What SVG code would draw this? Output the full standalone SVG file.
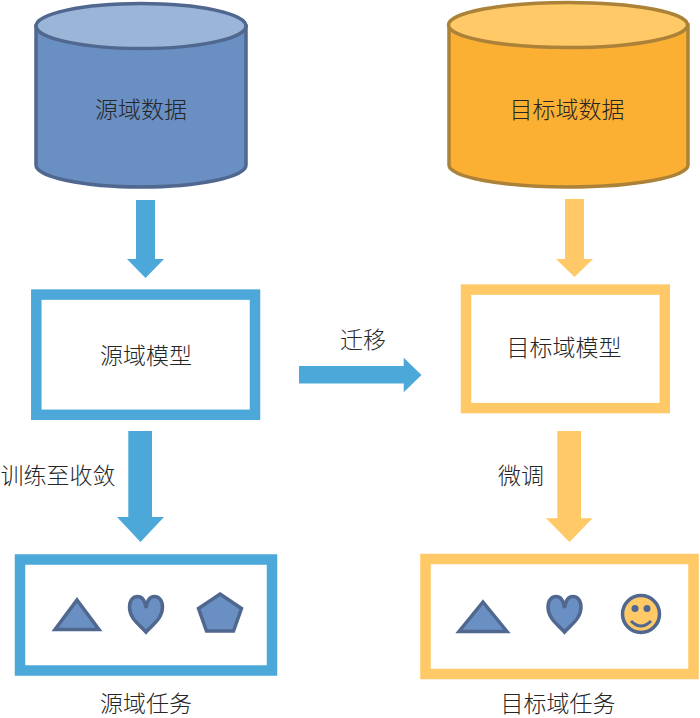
<svg xmlns="http://www.w3.org/2000/svg" width="700" height="718" viewBox="0 0 700 718">
<style>
text{font-family:"Noto Sans CJK SC","Noto Sans CJK JP",sans-serif;font-size:23px;fill:#262626;text-anchor:middle;font-weight:300}
.bb{fill:#fff;stroke:#4ba8d8;stroke-width:10.5px}
.yb{fill:#fff;stroke:#fec966;stroke-width:10.5px}
.ba{fill:#4ba8d8}
.ya{fill:#fec966}
.ic{fill:#6a8fc3;stroke:#50688f;stroke-width:3.5;stroke-linejoin:miter}
</style>
<rect width="700" height="718" fill="#fff"/>
<defs>
<path id="heart" d="M0 19C-6 12-16.500 6-16.500-6C-16.500-13-12.500-16.500-8.500-16.500C-4-16.500-1-12 0-5C1-12 4-16.500 8.500-16.500C12.500-16.500 16.500-13 16.500-6C16.500 6 6 12 0 19Z"/>
</defs>
<g id="connectors">
<path class="ba" d="M136 200H155V259H164L145.500 278L127 259H136Z"/>
<path class="ya" d="M565 199H584V259H593L574.500 277L556 259H565Z"/>
<path class="ba" d="M299 366H403.700V357.700L421.500 375L403.700 392.300V383.500H299Z"/>
<path class="ba" d="M128.300 431H152V517H164L140.500 542L117 517H128.300Z"/>
<path class="ya" d="M557.300 431H581V518.300H592.500L569.500 542L546 518.300H557.300Z"/>
</g>
<g id="source-data">
<path d="M36 26V165C36 177 83 187 141 187C199 187 246 177 246 165V26Z" fill="#6a8fc3" stroke="#50688f" stroke-width="3.500"/>
<ellipse cx="141" cy="26" rx="105" ry="22.500" fill="#9bb5d8" stroke="#50688f" stroke-width="3.500"/>
<text x="141" y="118">源域数据</text>
</g>
<g id="target-data">
<path d="M449 25V165C449 177 502 187 568 187C634 187 688 177 688 165V25Z" fill="#fbb034" stroke="#ac8238" stroke-width="3.500"/>
<ellipse cx="568" cy="25" rx="119.500" ry="22.500" fill="#fec966" stroke="#ac8238" stroke-width="3.500"/>
<text x="567" y="118">目标域数据</text>
</g>
<g id="source-model">
<rect class="bb" x="36.300" y="294.600" width="218.700" height="120.200"/>
<text x="146" y="364">源域模型</text>
</g>
<g id="target-model">
<rect class="yb" x="466" y="289.600" width="198.800" height="118.500"/>
<text x="564" y="356">目标域模型</text>
</g>
<g id="source-task">
<rect class="bb" x="20" y="559.500" width="252" height="111"/>
<path class="ic" d="M77 600L99 629.500H55Z"/>
<use href="#heart" class="ic" x="146" y="613"/>
<path class="ic" d="M220 594L241.500 608.500L233.500 631H206.500L198.500 608.500Z"/>
<text x="146" y="712">源域任务</text>
</g>
<g id="target-task">
<rect class="yb" x="425.500" y="559" width="268" height="115"/>
<path class="ic" d="M483 602L507 631.500H459Z"/>
<use href="#heart" class="ic" x="564.500" y="613"/>
<circle cx="641" cy="614" r="18.500" fill="#fec966" stroke="#50688f" stroke-width="3.500"/>
<circle cx="635" cy="608.500" r="3.500" fill="#50688f"/>
<circle cx="647" cy="608.500" r="3.500" fill="#50688f"/>
<path d="M631 621Q641 631 651 621" fill="none" stroke="#50688f" stroke-width="3"/>
<text x="558" y="712">目标域任务</text>
</g>
<text id="label-transfer" x="363" y="348">迁移</text>
<text id="label-train" x="58" y="484">训练至收敛</text>
<text id="label-finetune" x="521" y="484">微调</text>
</svg>
